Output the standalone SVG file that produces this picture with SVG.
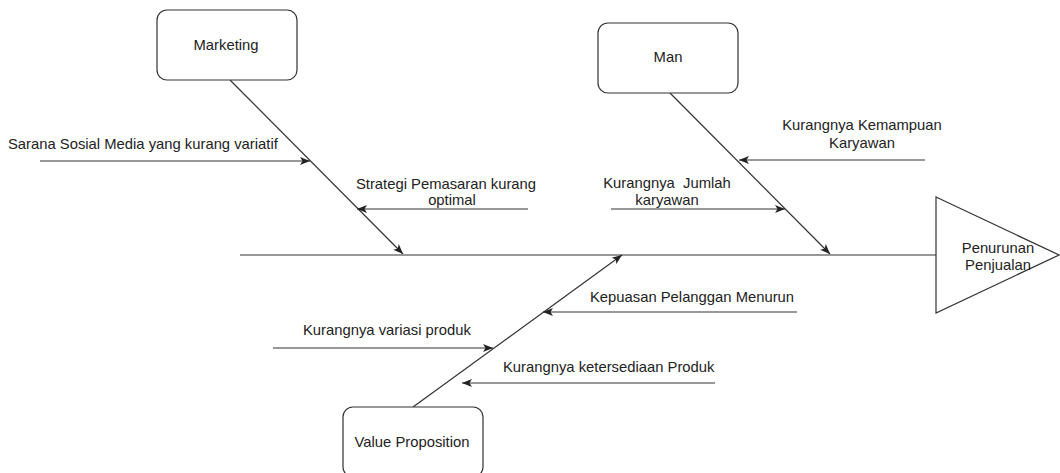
<svg xmlns="http://www.w3.org/2000/svg" width="1060" height="473" viewBox="0 0 1060 473">
<style>
.box{fill:#fff;stroke:#333;stroke-width:1.2}
.ln{fill:none;stroke:#333;stroke-width:1.2}
.t{font-family:"Liberation Sans",Arial,sans-serif;font-size:14.8px;fill:#222}
.c{text-anchor:middle}
</style>
<defs>
<marker id="ar" viewBox="0 0 10 10" refX="10" refY="5" markerWidth="10" markerHeight="10" markerUnits="userSpaceOnUse" orient="auto">
<path d="M0,1 L10,5 L0,9 L2.5,5 Z" fill="#222"/>
</marker>
</defs>
<g id="connectors">
<line class="ln" x1="240" y1="255" x2="937" y2="255"/>
<line class="ln" x1="230" y1="80" x2="403" y2="254" marker-end="url(#ar)"/>
<line class="ln" x1="670" y1="93" x2="830" y2="254" marker-end="url(#ar)"/>
<line class="ln" x1="413" y1="407" x2="622" y2="255" marker-end="url(#ar)"/>
<line class="ln" x1="40" y1="161" x2="310" y2="161" marker-end="url(#ar)"/>
<line class="ln" x1="528" y1="209" x2="357" y2="209" marker-end="url(#ar)"/>
<line class="ln" x1="925" y1="160" x2="739" y2="160" marker-end="url(#ar)"/>
<line class="ln" x1="611" y1="209" x2="785" y2="209" marker-end="url(#ar)"/>
<line class="ln" x1="797" y1="312" x2="543" y2="312" marker-end="url(#ar)"/>
<line class="ln" x1="273" y1="348" x2="493" y2="348" marker-end="url(#ar)"/>
<line class="ln" x1="715" y1="383" x2="462" y2="383" marker-end="url(#ar)"/>
</g>
<g id="marketing">
<rect class="box" x="157" y="10" width="140" height="70" rx="10"/>
<text class="t c" x="226" y="50">Marketing</text>
</g>
<g id="man">
<rect class="box" x="598" y="23" width="140" height="70" rx="10"/>
<text class="t c" x="668" y="62">Man</text>
</g>
<g id="value-proposition">
<rect class="box" x="343" y="407" width="140" height="70" rx="10"/>
<text class="t c" x="412" y="447">Value Proposition</text>
</g>
<g id="effect">
<polygon class="box" points="936,197 1059,255 936,313"/>
<text class="t c" x="998" y="253">Penurunan</text>
<text class="t c" x="998" y="270">Penjualan</text>
</g>
<g id="cause-sarana">
<text class="t" x="8" y="149">Sarana Sosial Media yang kurang variatif</text>
</g>
<g id="cause-strategi">
<text class="t c" x="446" y="189">Strategi Pemasaran kurang</text>
<text class="t c" x="452" y="205">optimal</text>
</g>
<g id="cause-kemampuan">
<text class="t c" x="862" y="130">Kurangnya Kemampuan</text>
<text class="t c" x="862" y="148">Karyawan</text>
</g>
<g id="cause-jumlah">
<text class="t c" x="667" y="188" xml:space="preserve">Kurangnya  Jumlah</text>
<text class="t c" x="667" y="205">karyawan</text>
</g>
<g id="cause-kepuasan">
<text class="t" x="590" y="302">Kepuasan Pelanggan Menurun</text>
</g>
<g id="cause-variasi">
<text class="t" x="303" y="335">Kurangnya variasi produk</text>
</g>
<g id="cause-ketersediaan">
<text class="t" x="503" y="372">Kurangnya ketersediaan Produk</text>
</g>
</svg>
